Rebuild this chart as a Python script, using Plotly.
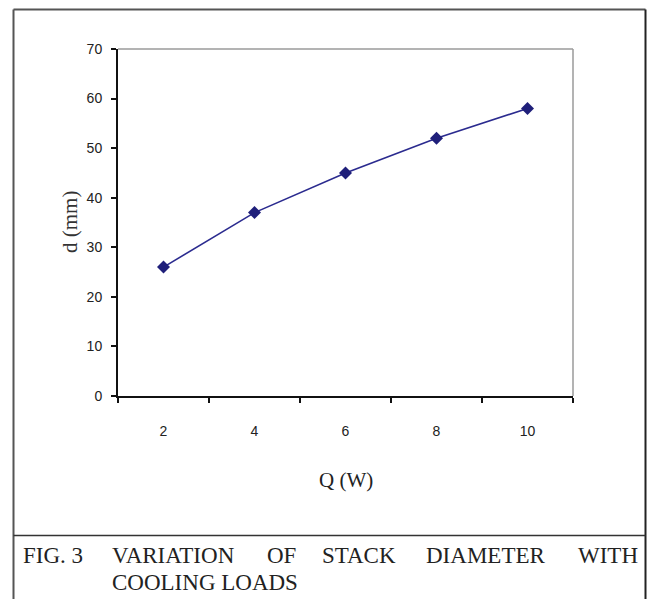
import plotly.graph_objects as go

# Data
q_watts = ["2", "4", "6", "8", "10"]
diameter_mm = [26, 37, 45, 52, 58]
y_ticks = [0, 10, 20, 30, 40, 50, 60, 70]

W, H = 647, 599
L, R, T, B = 118, 573, 49, 396  # plot area in pixels


def px(x):
    return (x - L) / (R - L)


def py(y):
    return (B - y) / (B - T)


fig = go.Figure()
fig.add_trace(go.Scatter(
    x=q_watts, y=diameter_mm, mode="lines+markers",
    line=dict(color="#2b2b8f", width=1.6),
    marker=dict(symbol="diamond", size=10, color="#1f1f7a"),
    showlegend=False,
))

serif = "Liberation Serif, Times New Roman, serif"
sans = "Liberation Sans, Arial, sans-serif"

fig.update_layout(
    width=W, height=H,
    margin=dict(l=L, r=W - R, t=T, b=H - B),
    paper_bgcolor="white", plot_bgcolor="white",
    xaxis=dict(
        type="category", range=[-0.5, 4.5], tickson="boundaries",
        ticks="outside", ticklen=5, tickwidth=1.5, tickcolor="#111",
        showline=True, linecolor="#111", linewidth=2,
        showgrid=False, zeroline=False,
        tickfont=dict(family=sans, size=14, color="#222"),
        ticklabelstandoff=21,
    ),
    yaxis=dict(
        range=[0, 70], tickvals=y_ticks,
        ticks="outside", ticklen=5, tickwidth=1.5, tickcolor="#111",
        showline=True, linecolor="#111", linewidth=2,
        showgrid=False, zeroline=False,
        tickfont=dict(family=sans, size=14, color="#222"),
        ticklabelstandoff=6,
    ),
)

shapes = []
# plot-area top/right gray frame
shapes.append(dict(type="line", xref="paper", yref="paper", x0=px(L), x1=px(R), y0=py(T), y1=py(T),
                   line=dict(color="#9a9a9a", width=1.5)))
shapes.append(dict(type="line", xref="paper", yref="paper", x0=px(R), x1=px(R), y0=py(T), y1=py(B),
                   line=dict(color="#9a9a9a", width=1.5)))
# outer box
shapes.append(dict(type="line", xref="paper", yref="paper", x0=px(13.5), x1=px(645.5), y0=py(9.5), y1=py(9.5),
                   line=dict(color="#555", width=2)))
shapes.append(dict(type="line", xref="paper", yref="paper", x0=px(13.5), x1=px(13.5), y0=py(9.5), y1=py(610),
                   line=dict(color="#555", width=2)))
shapes.append(dict(type="line", xref="paper", yref="paper", x0=px(645.5), x1=px(645.5), y0=py(9.5), y1=py(610),
                   line=dict(color="#222", width=2)))
shapes.append(dict(type="line", xref="paper", yref="paper", x0=px(13.5), x1=px(645.5), y0=py(535.5), y1=py(535.5),
                   line=dict(color="#333", width=1.5)))
fig.update_layout(shapes=shapes)

ann = []
ann.append(dict(text="Q (W)", xref="paper", yref="paper", x=px(346), y=py(480),
                xanchor="center", yanchor="middle", showarrow=False,
                font=dict(family=serif, size=21, color="#222")))
ann.append(dict(text="d (mm)", xref="paper", yref="paper", x=px(70), y=py(222),
                xanchor="center", yanchor="middle", showarrow=False, textangle=-90,
                font=dict(family=serif, size=21, color="#333")))

caption_words = [("FIG. 3", 23), ("VARIATION", 112), ("OF", 267), ("STACK", 322),
                 ("DIAMETER", 426), ("WITH", 578)]
for word, xpos in caption_words:
    ann.append(dict(text=word, xref="paper", yref="paper", x=px(xpos - 2), y=py(555),
                    xanchor="left", yanchor="middle", showarrow=False,
                    font=dict(family=serif, size=23, color="#222")))
ann.append(dict(text="COOLING LOADS", xref="paper", yref="paper", x=px(110), y=py(582),
                xanchor="left", yanchor="middle", showarrow=False,
                font=dict(family=serif, size=23, color="#222")))
fig.update_layout(annotations=ann)

fig.write_html("out.html")
